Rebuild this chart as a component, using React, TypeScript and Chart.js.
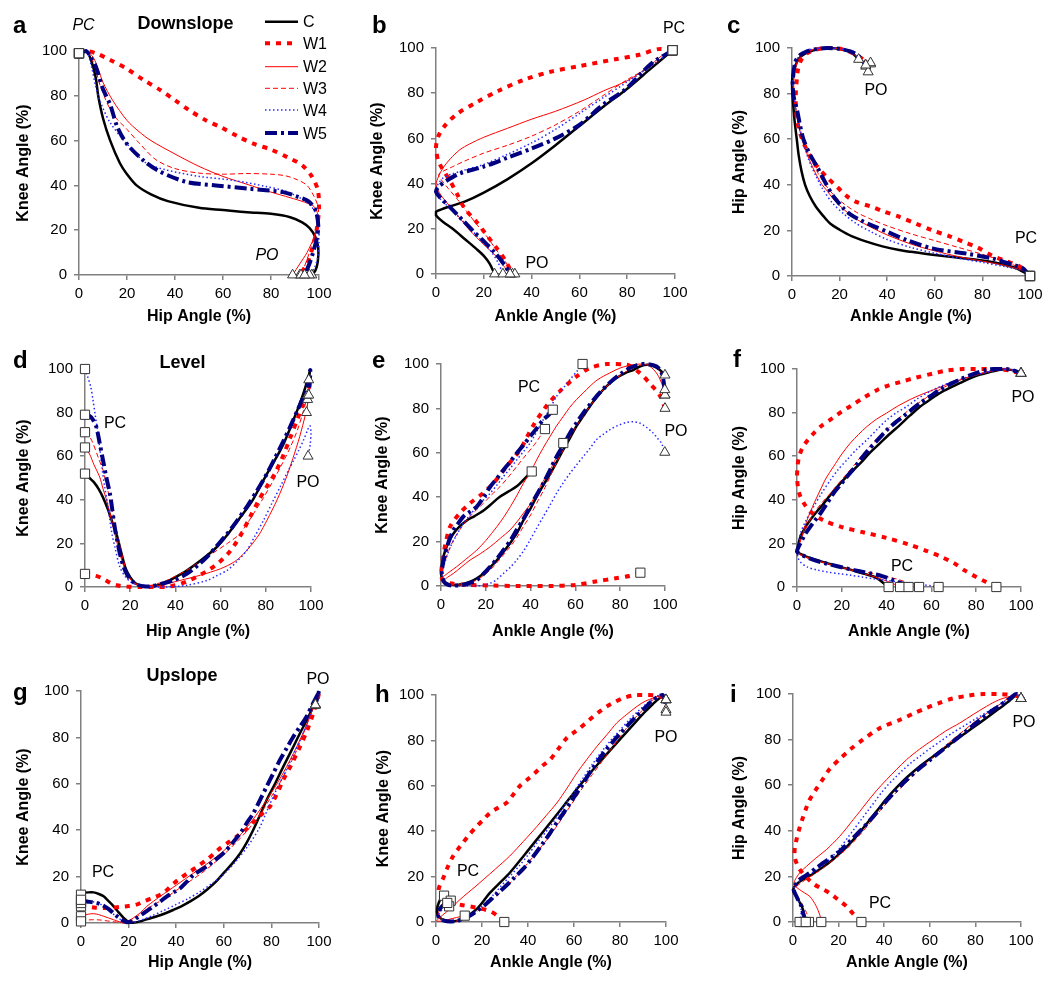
import React, { useEffect, useRef } from "react";
import { Chart, registerables } from "chart.js";

Chart.register(...registerables);

const FONT = "Arial, 'Liberation Sans', Helvetica, sans-serif";
Chart.defaults.font.family = FONT;

type Pt = [number, number];

// ---------- categories / tick labels ----------
const SERIES_NAMES = ["C", "W1", "W2", "W3", "W4", "W5"];
const AXIS_TICKS = [0, 20, 40, 60, 80, 100];
const HIP = "Hip Angle (%)";
const ANKLE = "Ankle Angle (%)";
const KNEE = "Knee Angle (%)";

// ---------- Panel a: Downslope, hip (x) vs knee (y); each series runs PC -> PO ----------
const A_C: Pt[] = [[0,99],[3,100],[5,96],[7,88],[8,80],[10,70],[13,60],[17,50],[20,45],[24,40],[30,36],[37,33],[50,30],[60,29],[70,28],[80,27.3],[88,25.8],[93,23.5],[96,21],[98.5,17],[99.7,12],[99.5,6],[98.5,2],[97,0]];
const A_W1: Pt[] = [[0,99],[3,100],[7,99],[13,96],[20,92],[27,87],[34,82.5],[40,78],[46,73.5],[53,69],[59,66],[66,62],[73,58.5],[80,56],[87,52.5],[93,49],[97,44],[99.5,38],[100,30],[99,20],[97,11],[95,5],[92,0]];
const A_W2: Pt[] = [[0,99],[3,100],[6,97],[8,92],[10,86],[14,78],[20,69],[25,64],[30,60],[40,54],[50,48.5],[60,44],[70,40.5],[80,37],[88,34.5],[94,32.5],[98,30.5],[99.5,27],[99.5,23],[98,17],[95,10],[92,5],[89,0]];
const A_W3: Pt[] = [[0,99],[3,100],[6,95],[9,84],[14,72],[20,65],[25,59],[32,51.5],[40,47.5],[50,45.5],[60,45],[70,45.3],[80,45],[86,44.3],[91,42.5],[95,40],[98,35],[99.7,30],[99.5,24],[98,17],[96,10],[94,4],[92.5,0]];
const A_W4: Pt[] = [[0,99],[3,100],[5,94],[7,84],[9,77],[13,68],[20,58.5],[28,50],[36,47],[50,44],[64,42.3],[78,39.5],[86,37.5],[91,35],[95,32.5],[98.5,28],[100,22],[100,15],[99.5,8],[98,3],[96,0]];
const A_W5: Pt[] = [[0,99],[3,100],[5,97],[7,93],[10,83],[13,76],[16,66],[20,58.5],[27,51],[34,46],[45,41.5],[57,40],[71,38.5],[85,37],[91,35],[95.5,33],[98.5,29],[99.7,22],[99,16],[97.5,10],[96,5],[94,0]];

// ---------- Panel b: Downslope, ankle (x) vs knee (y) ----------
const B_C: Pt[] = [[99,99],[90,91],[80,82],[70,74],[60,65.5],[50,57],[40,49],[30,42],[20,36],[12,32],[6,30],[2,28.5],[0,27.5],[0,26],[3,23],[7,20],[12,15.5],[17,11],[20,8],[22.5,4.5],[24.5,0]];
const B_W1: Pt[] = [[99,99],[93,99.5],[85,97],[75,95],[60,92],[48,89.5],[37,86],[26,81],[17,76],[9,71],[4,66],[1,61],[0,56],[1,50],[3,46],[6,41],[9,35],[12,29],[17,23],[21,17.5],[25,12],[29,6],[32,0]];
const B_W2: Pt[] = [[99,99],[95,97],[88,91],[80,85.5],[70,81],[62,77],[50,72],[40,68.5],[30,64.5],[20,60.5],[14,57.5],[10,55],[6,51],[3,47],[1,43],[0,39.5],[2,35],[5,31],[9,26],[14,19.5],[20,13],[25,8],[28,4],[31,0]];
const B_W3: Pt[] = [[99,99],[90,92],[80,86],[70,79],[60,72],[50,66],[40,61],[30,57],[20,53.5],[12,50],[7,47.5],[3,45.5],[1,44],[2,42],[5,38],[9,33],[13,27.5],[17,22],[21,17],[25,11],[29,5.5],[32,1],[33,0]];
const B_W4: Pt[] = [[99,99],[90,92],[80,85],[70,78],[60,71],[50,64],[40,58],[30,53],[20,48.5],[12,46],[6,44],[3,42.5],[1,40],[0,37],[2,33],[6,29],[12,22.5],[18,16],[23,10],[26,5],[28,0]];
const B_W5: Pt[] = [[99,99],[90,93],[79,81.5],[70,75],[60,66],[50,60],[40,55.5],[30,51.5],[20,47.5],[10,44.5],[4,41],[1,38.5],[0,36.5],[2,33.5],[5,30.5],[11,24],[16,18.5],[20,14.5],[25,9],[29,3.5],[31,0]];

// ---------- Panel c: Downslope, ankle (x) vs hip (y) ----------
const C_C: Pt[] = [[100,0],[98.5,1],[94,3.5],[87,5.5],[80,6.8],[73,7.7],[60,9.2],[50,10.6],[45,11.4],[38,13],[31,15.2],[25,17.5],[20,20.3],[16,23],[13,26.5],[10,30.5],[7.5,35],[5.5,40],[4,46],[2.8,53],[2,60],[1.2,67],[0.6,74],[0.2,80],[0,85],[0.5,89],[1.5,92.5],[3,95.5],[5.5,97.5],[9,99],[13,100],[20,99.7],[25,98],[28,95]];
const C_W1: Pt[] = [[100,0],[96,4],[90,6.5],[84,9],[78,12.5],[72,15],[66,17.5],[59,20],[52,23],[45,26],[38,28.5],[33,30.5],[27,32.5],[23,35],[19,39],[15,43],[11,47.5],[8,52],[5,58],[3.3,63],[2.2,68],[1.6,74],[1.6,80],[2,86],[2.6,91],[4,95],[6.5,97.8],[10,99.3],[15,100],[21,99.5],[26,97.5],[30,95],[33,93]];
const C_W2: Pt[] = [[100,0],[98,2],[90,4.5],[80,6.5],[70,8.5],[60,11],[50,14],[40,18],[33,21.5],[27,25],[22,29],[18,33],[15,37],[12,41],[9,47],[6.5,53],[4.5,59],[3,65],[1.8,72],[1,79],[0.7,85],[1.2,90],[2.5,94.5],[5,97.5],[9,99.3],[14,100],[20,99.6],[26,97.2],[31,92]];
const C_W3: Pt[] = [[100,0],[97,3],[90,6],[80,9.5],[70,12.5],[60,15.5],[50,18.5],[40,22],[33,25],[27,28],[22,31.5],[18,35],[14,40],[11,45],[8,51],[5.5,57],[3.5,63],[2,70],[1,77],[0.5,83],[1,89],[2.5,94],[5,97.5],[9,99.3],[14,100],[20,99.7],[27,97],[33,93.5]];
const C_W4: Pt[] = [[100,0],[98,2],[90,4],[80,6],[70,7.8],[60,10],[50,12.5],[40,16],[33,19.5],[27,23],[22,27],[17,32],[13,38],[10,44],[7,51],[5,58],[3,66],[1.5,74],[0.5,82],[0.3,88],[1.2,93],[3,96.5],[6,98.8],[10,99.8],[15,100],[21,99.5],[25,97.8],[29,94.5],[32,89.5]];
const C_W5: Pt[] = [[100,0],[97.5,3],[95.8,4],[90,5.8],[84.6,7.6],[73.4,9.8],[59.4,12],[48.3,15.7],[40,19.4],[34,22],[28.7,24.5],[24.5,27],[21.7,29.6],[17.5,34.8],[14,41],[10.5,48],[7.7,53],[4.9,59.7],[3.5,65.5],[2.1,72.9],[0.7,78.7],[0.3,84.6],[1.4,94],[3.5,97],[6.3,98.5],[10,99.5],[14.7,100],[20,99.6],[24.5,98.5],[28,96.5],[31,92.5]];

// ---------- Panel d: Level, hip (x) vs knee (y) ----------
const D_C: Pt[] = [[0,52],[2,50],[4,48],[6,45],[8,41],[10,36],[12,30],[14,24],[16,16],[18,8.5],[20,4.5],[22,2],[25,0.5],[30,0.3],[35,1.8],[40,4.5],[45,7.5],[51,12],[58,18],[63,24],[68,31],[74,39.5],[80,51],[85,60],[88,66],[92,76],[95,84],[97,90],[99,97],[99.5,99],[99,95]];
const D_W1: Pt[] = [[0,6],[4,5.5],[8,3.8],[11,2],[14,0.8],[18,0.2],[24,0],[30,0],[36,0],[40,0.8],[45,2.5],[50,5],[55,8],[59,11],[63,15],[66,19],[69,24],[73,32],[77,40],[81,47],[84,52],[88,61],[91,69],[94,77],[96.5,84],[98.5,90],[99.5,95],[98.5,86]];
const D_W2: Pt[] = [[0,64],[2,61],[4,56],[6.5,50.5],[8,45],[9.5,40],[11,34],[12.5,27.5],[14,21],[15.5,15],[17,10],[18.5,6],[21,2.5],[24,0.8],[29,0.3],[35,1.2],[42,3],[51,5.4],[60,8.4],[66,11.5],[70,15],[73,18.5],[77,24],[80.5,30.6],[85,40],[89,50],[92,59],[95,69],[97.5,79],[99,87],[99.7,94],[98,80]];
const D_W3: Pt[] = [[0,71],[2,69],[3.5,66],[6,59],[8,53.5],[9.5,47],[11,40],[12.5,33],[14,26],[15.5,19],[17,12.3],[19,6],[21,2.5],[24,0.8],[27,0.5],[31,1.2],[36,3],[45,7.7],[54,13.8],[63,20],[68.6,24.5],[74.6,33.7],[79,41],[83.4,49],[87,56],[90.8,64],[94,72],[96.7,81],[98.5,88],[99.7,94],[98.5,88]];
const D_W4: Pt[] = [[0,100],[1,97],[2.5,92],[3.5,86],[4.5,79],[5.5,72],[6.5,64],[7.5,55],[8.7,46],[10,38],[11,30.6],[12,24],[13.2,18.4],[15.4,9.2],[18,4.5],[20,2.5],[23,1],[26,0.5],[30,0],[36,0],[45,0.8],[54,3],[58,5],[63,7.7],[67,11.5],[71.6,16.8],[75,23],[79,30.6],[83,39],[86.4,46],[89.5,52.5],[92.3,58],[94.7,63],[96.7,67.4],[98.5,72],[99.5,74],[100,71],[99.6,65],[98.7,60]];
const D_W5: Pt[] = [[0,79],[2,78.5],[3.6,76.6],[5,73.5],[6.5,66],[8,58],[9.5,50],[11,43],[12,36],[13.2,27],[14.5,20],[15.5,15],[17,9.5],[18.5,6],[20.5,3],[23,1.2],[26,0.3],[29,0.3],[34,1.5],[39,3],[45,6],[50,10],[54,13.8],[58,18.5],[63,24.5],[67,30],[71.6,36.8],[76,44],[80.5,52],[84,59],[88,67.4],[91,74],[94,81],[96.5,87],[98.2,92],[99.7,99.5],[99,88]];

// ---------- Panel e: Level, ankle (x) vs knee (y) ----------
const E_C: Pt[] = [[40.5,51.6],[37,48],[34,45],[30,42.5],[26,40],[22,36.5],[19,34],[15,31.5],[11.5,29.5],[8,26.5],[5.5,23.5],[3.5,20],[1.9,16],[0.8,12],[0.3,8.5],[0.1,5],[1,2.5],[2.7,1.2],[5,0.6],[7,0.5],[10,1],[13,2],[16,3.5],[19,5.7],[22,8.5],[25,11.7],[28,15.5],[31,19.5],[34,24],[37,30],[40,35],[42.7,40.3],[46,46],[49,51],[52,56.5],[54.6,61.4],[57.5,66.5],[60.5,72],[63.5,76.5],[66.5,81],[69.5,85],[72.4,88.4],[75.5,91.5],[78.3,93.7],[82,95.8],[86,97.4],[89,99],[92,99.7],[95,99],[97.6,97.4],[100,95]];
const E_W1: Pt[] = [[89,6],[84,4.5],[78,3.5],[69,2],[60,0.5],[49,0],[34,0],[23,0.2],[12,0.5],[4,1.2],[1.2,2],[0.1,4.5],[0.7,11.5],[2,19],[4.2,27],[8.6,33],[13,37.3],[19,42],[23.4,46.3],[29.4,54],[35.3,61.4],[41,72],[47,81],[53,87.7],[60.5,94.4],[66.5,98.2],[74,100],[83,99.7],[88.7,96],[93,91.5],[97.6,86],[100,80]];
const E_W2: Pt[] = [[54.6,64.4],[51.5,58],[48.7,52.3],[45.5,47],[42.7,41.8],[40,37],[36.8,32.8],[34,29],[30.9,25.3],[26.5,21.5],[22,17.7],[17.5,14.5],[13,11.7],[9,8.5],[5.6,5.7],[3,4],[1.2,2.7],[0.2,3.5],[2,5],[4,6.5],[7,8.7],[11,12],[16,16.2],[20,20.5],[25,26.8],[28,31],[31,35.8],[34,41],[36.8,46.3],[40,51.5],[42.7,56.8],[45.5,62],[48.7,67.4],[51.5,72],[54.6,76.4],[57.5,80.5],[60.5,84],[63.5,87],[66.5,90],[70,93],[75.4,96],[80,98.2],[85.8,99.7],[90,100],[93.2,99],[96.5,95.5],[99,90],[100,86]];
const E_W3: Pt[] = [[46.4,70.7],[44,67],[41.2,63],[37.5,58.5],[33.8,53.8],[30,49],[26.4,44.8],[22.5,41],[19,37.3],[15,33.5],[11.6,29.8],[8.5,25.5],[5.6,20.8],[3.5,16],[1.9,11.7],[0.8,8.5],[0.4,5.7],[1.2,3],[2.7,1.2],[5.5,0.6],[8.6,0.5],[12,1.2],[16,2.7],[20,5.5],[23.4,8.7],[27,13],[30.9,17.7],[34,22],[36.8,26.8],[40,32],[42.7,37.3],[46,43.5],[48.7,49.3],[51.5,55.5],[54.6,61.4],[57.5,67],[60.5,72],[63.5,76.5],[66.5,81],[69.5,85],[72.4,88.4],[75.5,91.5],[78.3,93.7],[82,96.2],[85.8,98.2],[88.7,99.3],[91.7,100],[95,99.2],[97.6,97],[99.9,90],[100,86]];
const E_W4: Pt[] = [[63.2,100],[60.5,96.5],[57.6,93],[54.5,89],[51.6,85.4],[48.7,80],[45.7,75],[42.7,69.5],[39.8,64.4],[36.8,60.5],[33.8,56.8],[30.9,53],[27.9,49.3],[25,45.5],[22,41.8],[19,38.8],[16,35.8],[13,32],[10,28.3],[7,23],[4.2,17.7],[2.5,13],[1.2,8.7],[0.6,5.5],[0.4,2.7],[2,0.8],[4.2,0.2],[8,0],[11.6,0],[16,0],[19,0.4],[22,1.2],[25,3],[27.9,5.7],[31,8.5],[33.8,11.7],[37,16],[39.8,20.8],[42.7,26],[45.7,31.3],[48.7,36.5],[51.6,41.8],[54.6,46.5],[57.6,50.8],[60.5,54.5],[63.5,58.3],[66.5,62],[69.4,65.9],[72.4,68.3],[75.4,70.4],[79,72.3],[82.8,73.7],[85.8,74],[88.7,73.4],[91.7,71.5],[94.7,68.9],[96.7,66.5],[98.4,64.4],[99.9,60.2]];
const E_W5: Pt[] = [[49.9,79.4],[48,77],[45.7,75],[42.7,71],[39.8,67.4],[36.8,63.5],[33.8,59.8],[30.9,56],[27.9,52.3],[25,48.5],[22,44.8],[19,40],[16,35.8],[13,33.5],[10,31.3],[7.5,28],[5.6,25.3],[4,21.5],[2.7,17.7],[1.8,14.5],[1.2,11.7],[0.6,8.5],[0.3,5.7],[0.9,3],[1.9,1.2],[3.5,0.4],[5.6,0.2],[8,0.3],[10,0.5],[13,1.4],[16,2.7],[19,5.5],[22,8.7],[25,12.3],[27.9,16.2],[31,20.5],[33.8,25.3],[37,30.5],[39.8,35.8],[42.7,41],[45.7,46.3],[48.7,52.3],[51.6,58.3],[54.6,63.5],[57.6,68.9],[60.5,73.5],[63.5,77.9],[66.5,81.8],[69.4,85.4],[73,89.3],[76.8,92.9],[80.5,95.8],[84.3,98.2],[87,99.3],[90.2,100],[93,99.8],[96.1,99],[98,97],[99,94.4],[99.9,88.4]];

// ---------- Panel f: Level, ankle (x) vs hip (y) ----------
const F_C: Pt[] = [[40.9,0],[39.5,1],[38.6,1.8],[36.5,3.5],[34.2,4.8],[30,6],[26.7,7],[23,8.2],[19.3,9.2],[15.5,10.3],[11.9,11.4],[8,12.6],[4.5,13.8],[2,15],[0.3,16.1],[0.5,19],[1.5,23],[3.5,27],[5.9,30.7],[8.8,34.5],[11.9,38.3],[15.5,43],[19.3,47.5],[23.5,52],[28.2,56.7],[32.5,61.5],[37.1,66],[41.5,70.3],[46,74.4],[50.5,78.7],[55,82.8],[59.5,86],[63.9,89],[68.5,91.5],[72.8,93.6],[77,95.6],[81.7,97.4],[86,98.6],[90.6,99.7],[94,99.8],[97,99.3],[100,98]];
const F_W1: Pt[] = [[89,0],[84,2.5],[80,4.6],[75,7.5],[70,11],[64,14],[58,16.5],[50,19.5],[40,22.5],[30,25],[20,27.5],[12,30.5],[6,34.5],[3,38.5],[1,43],[0,50],[0.3,56],[1,60],[2.5,64],[4.5,67],[7,70],[11,74],[16,77.5],[20,80.5],[24,83],[30,87],[36,90.5],[41,92.5],[46,94],[53,96],[61,98],[67,99.3],[74,100],[80,100],[86,100],[91,99.8],[95,99.3],[97,98.7],[100,98]];
const F_W2: Pt[] = [[46,0],[43,1.5],[38,3.5],[32,5.5],[25,7.5],[18,9.5],[12,11.2],[6,13],[2,14.8],[0,16.5],[1.5,21],[3,26],[4.5,30.7],[7,37],[10.4,44.5],[13,50],[16.3,55.2],[20,61],[23.8,66],[27.5,70],[31.2,73.6],[35.5,77],[40,79.8],[45,83],[50.5,86],[55.5,88.3],[61,90.5],[67,93],[72.8,95],[79,97],[86,98.9],[92,100],[96,99.5],[100,98]];
const F_W3: Pt[] = [[54.5,0],[50,1.8],[45,3.5],[40,4.8],[35,6],[30,7],[25,8],[20,9],[15,10.3],[10,11.7],[6,12.8],[3,14],[1,15],[0,16],[0.8,18.5],[1.5,21.5],[4,27],[7.4,33.7],[11,38.5],[14.9,43],[18.5,47.5],[22.3,52],[26,56.5],[29.7,61.3],[33.5,65.5],[37.1,69],[41,73],[44.6,76.7],[48.5,80],[52,82.8],[56.5,86],[61,89],[66,91.8],[71.3,94.3],[77,96.5],[83.2,98.2],[88,99.3],[93.6,100],[97,99.5],[100,98]];
const F_W4: Pt[] = [[63.2,0],[60,0.5],[55,1.2],[50,1.8],[46,2.3],[40,3],[34,3.8],[29,4.6],[24,5.4],[19,6.1],[13.4,6.9],[9,7.8],[4.5,9.2],[1.5,11.5],[0.3,14],[0.6,18],[1.5,24.5],[4,30.5],[7.4,36.8],[11,43],[14.9,49],[18.5,54],[22.3,58.3],[26.5,63],[31.2,67.5],[35.5,72],[40.1,76.7],[44.5,80],[49,82.8],[54,86.5],[59.4,89.7],[64.5,92.2],[69.8,94.3],[75,96],[80.2,97.4],[85.5,98.7],[90.6,99.7],[95,99.8],[100,98]];
const F_W5: Pt[] = [[49.8,0],[47,1.5],[43,3.2],[38,5],[33,6.2],[28,7.2],[23,8.3],[18,9.5],[13,10.8],[8,12.2],[4,13.8],[1.5,15],[0,16.2],[0.5,18],[1.5,20],[3.5,24],[5.9,27.6],[8,30.5],[10.4,33.7],[13.5,38.5],[16.3,43],[19.5,47],[22.3,50.6],[25.5,54.5],[28.2,58.3],[32,63],[36,67.5],[40.1,72],[44,75.5],[47.5,78.2],[51,81.2],[55,84.4],[59.5,87.5],[63.9,90.5],[69,93.4],[74.3,95.9],[79.5,98],[84.7,99.7],[89,100],[93.6,100],[97,99.2],[100,98]];

// ---------- Panel g: Upslope, hip (x) vs knee (y) ----------
const G_C: Pt[] = [[0,12.2],[1.1,12.9],[3,13.2],[5.3,13.2],[7.5,12.5],[9.5,11.5],[11.5,9.5],[13.7,7.2],[15.8,4.6],[17.9,2.2],[19.5,0.8],[20.7,0.1],[22.5,0.2],[24.9,0.7],[28,1.7],[31.9,2.9],[35.5,4.2],[38.9,5.7],[42.5,7.4],[45.9,9.3],[49.5,11.6],[52.9,14.3],[56.5,17.6],[59.9,21.5],[63.5,25.6],[66.9,30.1],[69.8,35],[72.4,40.2],[75.2,46.5],[78,53],[81.5,60],[85,67.4],[88.5,74.5],[92,81.8],[95,87.7],[97.6,93.3],[99,97],[100,100],[98.5,94]];
const G_W1: Pt[] = [[0,7.2],[3,7],[6,6.6],[9,6.5],[12.3,6.5],[16.5,7],[20,7.3],[23,7.8],[26.3,9.3],[30,10.8],[34.7,13],[38.9,17],[42,19.5],[45.9,22.2],[49.5,24.8],[52.9,27.3],[56,30],[58.5,32.3],[62,34.8],[65.5,37.3],[69,40],[72.5,43.5],[76,47],[79.4,50.2],[82,55],[85,61.7],[88.5,68.5],[92,76],[95,83],[97.6,90.4],[99.7,97.6],[100,100],[98.5,94]];
const G_W2: Pt[] = [[0,2.9],[1.1,3.2],[3,3.8],[5.3,4],[7.5,3.6],[9.5,2.9],[11.5,2.2],[13.7,1.4],[16,0.6],[17.9,0],[20,1],[22,2.2],[25,4.5],[27.7,7.2],[30.5,9.4],[33.3,11.5],[36.8,14],[40.3,16.5],[43.8,19],[47.3,21.5],[50.8,24],[54.3,26.5],[57.8,29.3],[61.3,32.3],[64.8,35.7],[68.3,39.5],[71.8,44],[75.2,48.8],[78,53],[80.8,57.4],[83.6,62.2],[86.4,67.4],[89.2,73],[92,78.9],[94.2,84],[96.2,89],[98,94],[99.7,99],[100,100],[98.5,94]];
const G_W3: Pt[] = [[0,0.7],[2,1.2],[5,1.4],[8,1.3],[11,0.9],[14,0.5],[17,0.2],[19,0],[21,0.8],[24,3],[27,5.5],[30,7.5],[35,10.5],[40,14],[45,17.5],[50,21],[55,25],[60,29.5],[65,34.5],[70,40],[75,46.5],[80,54.5],[85,63],[90,73],[94,83],[97,91.5],[99,97],[100,100],[98.5,94]];
const G_W4: Pt[] = [[0,8.6],[2,9.2],[5,9.2],[8,8.2],[11,6],[14,3.5],[17,1.3],[19.5,0.2],[22,0.3],[26,1.5],[30,3.2],[35,5.5],[40,8],[45,10.5],[50,13.5],[55,17],[60,21],[65,26.5],[70,33],[75,41],[78,48],[81,55],[85,63.5],[89,72],[93,81],[96,89],[98.5,96],[100,100],[98.5,94]];
const G_W5: Pt[] = [[0,10],[2.5,9.3],[4.5,9],[6.7,8.6],[8.8,7.8],[10.9,6.5],[13,4.8],[15.1,2.9],[17.2,1.3],[19.3,0.3],[21.4,0.8],[23.5,2.2],[27,4.7],[30.5,7.2],[33.3,9.3],[36.1,11.5],[38.9,13.2],[41.7,15],[44.5,17.8],[47.3,20.8],[50.1,22.6],[52.9,24.4],[56.4,27.2],[59.9,30.1],[63.4,34.2],[66.9,38.7],[69.6,43],[72.4,47.3],[75.2,53],[78,58.8],[80.8,64.5],[83.6,70.3],[86.4,75.3],[89.2,80.3],[92,84.6],[94.8,89],[97.2,94],[99.7,99],[100,100],[98.5,94]];

// ---------- Panel h: Upslope, ankle (x) vs knee (y) ----------
const H_C: Pt[] = [[3.5,11.6],[2.2,10.5],[1.2,8.5],[0.5,6],[0.6,3.5],[1.8,1.8],[3.5,0.8],[6,0.3],[9,0.5],[12,1.5],[15,3.5],[18,6],[20.5,9],[23.4,12.8],[27.5,17],[32,21.6],[38,29],[43.8,36.3],[49.5,43.5],[55.4,51],[61,58.3],[67,65.6],[72.8,72.3],[78.6,78.9],[84.5,85.5],[90.3,92],[94,95.7],[97,98.5],[99,99.4],[99.8,99],[100,97.9]];
const H_W1: Pt[] = [[29.7,0],[27,2.5],[24,4.5],[20,5.8],[15,6.8],[11,7.5],[7,8.5],[4,10],[2,11.5],[1,13],[1.6,16],[3,19],[5,24],[7.4,29],[9.5,32],[11.8,35],[14.5,38.5],[17.6,42],[20.5,45],[23.4,48],[27,50.3],[30.7,52.5],[33.5,56],[36.5,60],[40,63],[43,65.6],[46.5,69],[49.6,71.5],[53,76],[56.8,81],[60,83.5],[62.6,85.5],[65.5,88],[68.5,90.6],[71.5,93],[74.3,95],[78,97],[81.5,98.7],[87,100],[92,100],[96,99.8],[98.5,99],[100,97.9]];
const H_W2: Pt[] = [[12.5,2.8],[9,2],[5,1],[2,0.4],[0.3,0.5],[1.5,1.8],[4,4],[7,6.5],[10,9.5],[14,13],[17,15.5],[20.5,18.6],[26,23.5],[32,29],[38,35.5],[43.8,42],[48,47],[52.5,52.4],[57,59],[61.2,65.6],[65.5,71.5],[70,77.4],[74.3,82.5],[78.6,87.7],[83,91.5],[87.4,95],[91,97.3],[94.6,98.7],[97.5,99.5],[99.5,99],[100,97.9]];
const H_W3: Pt[] = [[6.4,9.4],[4,8],[2,6],[1,3.5],[2,1.5],[4,0.5],[7,0.2],[10,0.6],[13,1.8],[16,3.5],[19,5.5],[22,8],[25,10.5],[28,13],[32,17],[36,21.5],[40,26],[44,31],[48,36],[52,41.5],[56,47.5],[60,53.5],[64,59.5],[68,65],[72,70.5],[76,76],[80,81.5],[84,87],[88,91.5],[92,95.5],[95,98.5],[97.5,100],[99,98],[100,93.5]];
const H_W4: Pt[] = [[5.7,6.9],[3.5,6],[1.8,4.5],[1,2.8],[2,1.2],[4,0.4],[7,0.2],[10,0.8],[13,2],[16,3.8],[19,6],[22,9],[25,12],[28,15.5],[32,20],[36,24.5],[40,29.5],[44,35],[48,40],[52,45.5],[56,51.5],[60,57.5],[64,63.5],[68,69.5],[72,75],[76,80],[80,84.5],[84,89],[88,93],[92,96.5],[95,98.8],[97.5,100],[99,99.5],[100,97.9]];
const H_W5: Pt[] = [[4.9,8.4],[3,7.3],[1.5,5.5],[0.8,3.5],[1.5,1.7],[3.5,0.6],[6,0.2],[9,0.5],[12,1.4],[15,3],[18,5],[21,7.3],[24,10],[27,12.8],[30,15.5],[34,19.5],[38,23.5],[42,28.5],[46,34],[49.6,39.2],[53,44.5],[55.4,48],[59,53.5],[62,58],[64,61.2],[68,67.5],[72.8,74.4],[77,79.5],[80,83],[83,86.2],[87,90.5],[91,94.5],[94,97.5],[97,99.5],[98.5,100],[99.5,98],[100,92.4]];

// ---------- Panel i: Upslope, ankle (x) vs hip (y) ----------
const I_C: Pt[] = [[4.7,0],[5,2],[4.7,4],[4,6.5],[3,8.5],[1.8,10.5],[0.6,12.5],[0,14],[1,16],[3,17.8],[5.5,19.3],[9,21.3],[13,24],[17,27],[21,30.5],[25,34.5],[29,39],[33,44],[37,49],[41,54],[45.5,59],[50,63.5],[55,67.8],[61,72.3],[67,76.7],[73,81],[79,85.3],[85,89.6],[90,93.3],[95,97],[98,99.4],[100,98]];
const I_W1: Pt[] = [[30,0],[26.5,3.5],[23.4,6.9],[19.5,10],[16,12.7],[12.5,14.7],[9.5,16.4],[6,19.5],[3,23],[1.5,26],[0.7,28.8],[0.8,32.5],[1.5,36],[2.8,41],[4.4,46],[5.8,50],[7.3,53.6],[10,58],[13,62.5],[16,67],[20.5,71.5],[25,75.6],[30.7,80],[38,85],[47,88.7],[53,91.5],[58.5,93.9],[64,96],[70,98],[77,99.3],[83.5,100],[90,100],[95,99.7],[98,99.2],[100,98]];
const I_W2: Pt[] = [[12.4,0],[11.8,3],[10.2,6.9],[8.8,9.3],[7.3,11.3],[5,12.8],[2.9,14.2],[1.2,15.5],[0.4,17],[1.5,19.5],[3.3,22],[5.9,24.4],[10,28],[14.6,31.7],[17.5,34.5],[20.5,37.6],[23.5,41.2],[26.4,44.9],[29.3,48.5],[32.2,52.2],[36.5,57.5],[41,62.4],[45.5,67],[49.8,71.2],[55.5,75.8],[61.5,80],[67,83.8],[73.2,87.3],[79,91],[84.9,94.6],[90,97.3],[95.2,99],[98,99.7],[100,98]];
const I_W3: Pt[] = [[7,0],[6.5,2.5],[5.5,5],[4.2,7.5],[3,9.5],[1.5,11.8],[0.3,13.8],[1.5,15.5],[4,17.5],[7,19.5],[10,21.5],[13,23.5],[16,26],[20,29],[25,33.5],[30,39],[35,45],[40,51],[45,56.5],[50,61.5],[55,66.5],[60,71],[65,75.5],[70,80],[75,84],[80,88],[85,91.5],[90,95],[95,98.5],[98,99.8],[100,98]];
const I_W4: Pt[] = [[2.9,0],[3.5,3],[3.5,6],[2.8,8.5],[1.8,10.5],[0.7,12.5],[0,14],[1,16],[3,18],[6,20],[9,22],[12,24],[15,26.5],[18,29.5],[21,33],[24,37],[27,41],[30,45],[33,49],[36,53],[39,57],[42,60.5],[45,63.5],[48,66.5],[52,70],[56,73],[60,76],[65,79.5],[70,83],[75,86],[80,89],[85,92],[90,95],[95,98],[98,99.6],[100,98]];
const I_W5: Pt[] = [[5.6,0],[5,2],[4.4,4],[3.7,6.9],[2.6,9],[1.5,11.3],[0.3,14.2],[1.2,16.5],[2.9,18.6],[5,20],[7.3,21.5],[10,23.5],[13.2,25.9],[17,28.5],[21,31.5],[25,35.5],[30,40.5],[35,46],[40,52],[45,57.5],[50,62.5],[55,67],[60,71],[65,75],[70,79],[75,83],[80,87],[85,91],[90,94.5],[95,98],[98,100],[100,98]];

// ---------- styles ----------
const STYLES = [
  { color: "#000000", width: 2.5, dash: [] as number[] },
  { color: "#ff0000", width: 4, dash: [5, 6] },
  { color: "#ff0000", width: 1, dash: [] as number[] },
  { color: "#ff0000", width: 1, dash: [5, 3] },
  { color: "#2a2aff", width: 1.5, dash: [1.5, 2.5] },
  { color: "#000080", width: 4, dash: [12, 4, 3, 4] },
];

interface Label { text: string; x: number; y: number; size: number; bold?: boolean; italic?: boolean; align?: CanvasTextAlign; }
interface Panel {
  key: string; cl: number; ct: number; cr: number;
  x0: number; x100: number; y100: number; y0: number;
  yTitleX: number; xTitleY: number;
  xTitle: string; yTitle: string;
  series: Pt[][]; labels: Label[]; legend?: boolean;
}

const L = (text: string, x: number, y: number, size = 16, extra: Partial<Label> = {}): Label => ({ text, x, y, size, align: "center", ...extra });
const letter = (t: string, x: number, y: number) => L(t, x, y, 24, { bold: true, align: "left" });

const PANELS: Panel[] = [
  { key: "a", cl: 0, ct: 0, cr: 350, x0: 79, x100: 319, y100: 51, y0: 275, yTitleX: 24, xTitleY: 317, xTitle: HIP, yTitle: KNEE,
    series: [A_C, A_W1, A_W2, A_W3, A_W4, A_W5], legend: true,
    labels: [letter("a", 13, 33), L("Downslope", 185.5, 29, 18, { bold: true }), L("PC", 83.5, 30, 16, { italic: true }), L("PO", 267, 260, 16, { italic: true })] },
  { key: "b", cl: 350, ct: 0, cr: 700, x0: 436, x100: 675, y100: 48, y0: 274, yTitleX: 378, xTitleY: 317, xTitle: ANKLE, yTitle: KNEE,
    series: [B_C, B_W1, B_W2, B_W3, B_W4, B_W5],
    labels: [letter("b", 372, 33), L("PC", 674, 33), L("PO", 537, 268)] },
  { key: "c", cl: 700, ct: 0, cr: 1050, x0: 792, x100: 1030, y100: 48, y0: 276, yTitleX: 740, xTitleY: 317, xTitle: ANKLE, yTitle: "Hip Angle (%)",
    series: [C_C, C_W1, C_W2, C_W3, C_W4, C_W5],
    labels: [letter("c", 727, 33), L("PO", 876, 95), L("PC", 1026, 243)] },
  { key: "d", cl: 0, ct: 320, cr: 350, x0: 85, x100: 311, y100: 369, y0: 587, yTitleX: 24, xTitleY: 632, xTitle: HIP, yTitle: KNEE,
    series: [D_C, D_W1, D_W2, D_W3, D_W4, D_W5],
    labels: [letter("d", 13, 368), L("Level", 182.5, 368, 18, { bold: true }), L("PC", 115, 428), L("PO", 308, 487)] },
  { key: "e", cl: 350, ct: 320, cr: 700, x0: 441, x100: 665, y100: 364, y0: 586, yTitleX: 383, xTitleY: 632, xTitle: ANKLE, yTitle: KNEE,
    series: [E_C, E_W1, E_W2, E_W3, E_W4, E_W5],
    labels: [letter("e", 372, 368), L("PC", 529, 392), L("PO", 676, 436)] },
  { key: "f", cl: 700, ct: 320, cr: 1050, x0: 797, x100: 1021, y100: 369, y0: 587, yTitleX: 740, xTitleY: 632, xTitle: ANKLE, yTitle: "Hip Angle (%)",
    series: [F_C, F_W1, F_W2, F_W3, F_W4, F_W5],
    labels: [letter("f", 733, 367), L("PO", 1023, 402), L("PC", 902, 571)] },
  { key: "g", cl: 0, ct: 640, cr: 350, x0: 81, x100: 319, y100: 691, y0: 923, yTitleX: 24, xTitleY: 963, xTitle: HIP, yTitle: KNEE,
    series: [G_C, G_W1, G_W2, G_W3, G_W4, G_W5],
    labels: [letter("g", 13, 700), L("Upslope", 182, 681, 18, { bold: true }), L("PC", 103, 877), L("PO", 318, 684)] },
  { key: "h", cl: 350, ct: 640, cr: 700, x0: 436, x100: 666, y100: 695, y0: 922, yTitleX: 384, xTitleY: 963, xTitle: ANKLE, yTitle: KNEE,
    series: [H_C, H_W1, H_W2, H_W3, H_W4, H_W5],
    labels: [letter("h", 375, 702), L("PC", 468, 876), L("PO", 666, 742)] },
  { key: "i", cl: 700, ct: 640, cr: 1050, x0: 793, x100: 1021, y100: 694, y0: 922, yTitleX: 740, xTitleY: 963, xTitle: ANKLE, yTitle: "Hip Angle (%)",
    series: [I_C, I_W1, I_W2, I_W3, I_W4, I_W5],
    labels: [letter("i", 730, 702), L("PO", 1024, 727), L("PC", 880, 908)] },
];

const LEGEND_ROWS = [21.7, 43.3, 66.7, 88.3, 110, 133];
const HALF_TITLE = 9.6; // half line height of 16px title

function PanelChart({ p }: { p: Panel }) {
  const ref = useRef<HTMLCanvasElement>(null);
  const H = p.xTitleY + HALF_TITLE - p.y0;
  const W = p.x0 - p.yTitleX + HALF_TITLE;
  const width = p.cr - p.cl;
  const height = Math.ceil(p.y0 - p.ct + H);

  useEffect(() => {
    const canvas = ref.current;
    if (!canvas) return;
    const padLeft = p.yTitleX - HALF_TITLE - p.cl;
    const padTop = p.y100 - p.ct;
    const padRight = p.cr - p.x100;
    const padBottom = height - (p.y0 - p.ct) - H;

    const lineSets: any[] = p.series.map((pts, i) => ({
      label: SERIES_NAMES[i],
      data: pts.map(([x, y]) => ({ x, y })),
      showLine: true,
      borderColor: STYLES[i].color,
      backgroundColor: STYLES[i].color,
      borderWidth: STYLES[i].width,
      borderDash: STYLES[i].dash,
      pointRadius: 0,
      pointHoverRadius: 0,
      tension: 0.3,
      fill: false,
      clip: false,
      order: 10 - i,
    }));
    const markerCommon = {
      showLine: false,
      pointBackgroundColor: "#ffffff",
      pointBorderColor: "#333333",
      pointBorderWidth: 1,
      clip: false,
      order: 0,
    };
    const pcSet = { ...markerCommon, label: "PC", data: p.series.map((s) => ({ x: s[0][0], y: s[0][1] })), pointStyle: "rect", pointRadius: 6.5 };
    const poSet = { ...markerCommon, label: "PO", data: p.series.map((s) => ({ x: s[s.length - 1][0], y: s[s.length - 1][1] })), pointStyle: "triangle", pointRadius: 5.8 };

    const textPlugin = {
      id: "panelText" + p.key,
      afterDraw(chart: any) {
        const ctx = chart.ctx as CanvasRenderingContext2D;
        ctx.save();
        ctx.fillStyle = "#000";
        ctx.textBaseline = "alphabetic";
        for (const lb of p.labels) {
          ctx.font = `${lb.italic ? "italic " : ""}${lb.bold ? "bold " : ""}${lb.size}px ${FONT}`;
          ctx.textAlign = lb.align || "center";
          ctx.fillText(lb.text, lb.x - p.cl, lb.y - p.ct);
        }
        if (p.legend) {
          ctx.font = `16px ${FONT}`;
          ctx.textAlign = "left";
          SERIES_NAMES.forEach((name, i) => {
            const y = LEGEND_ROWS[i] - p.ct;
            ctx.save();
            ctx.strokeStyle = STYLES[i].color;
            ctx.lineWidth = STYLES[i].width;
            ctx.setLineDash(STYLES[i].dash);
            ctx.beginPath();
            ctx.moveTo(265 - p.cl, y);
            ctx.lineTo(298 - p.cl, y);
            ctx.stroke();
            ctx.restore();
            ctx.fillStyle = "#000";
            ctx.fillText(name, 303 - p.cl, y + 5.5);
          });
        }
        ctx.restore();
      },
    };

    const axisCommon = (title: string, pad: number) => ({
      type: "linear",
      min: 0,
      max: 100,
      afterBuildTicks: (s: any) => { s.ticks = AXIS_TICKS.map((v) => ({ value: v })); },
      ticks: { color: "#000", font: { size: 15, family: FONT }, padding: pad, autoSkip: false, maxRotation: 0, callback: (v: any) => String(v) },
      grid: { display: true, drawOnChartArea: false, drawTicks: true, tickLength: 5, color: "#808080", lineWidth: 1.5 },
      border: { display: true, color: "#808080", width: 1.5 },
      title: { display: true, text: title, color: "#000", font: { size: 16, weight: "bold", family: FONT, lineHeight: 1.2 }, padding: 0 },
    });

    const chart = new Chart(canvas, {
      type: "scatter",
      data: { datasets: [pcSet, poSet, ...lineSets] as any },
      options: {
        responsive: false,
        animation: false,
        devicePixelRatio: 1,
        events: [],
        layout: { padding: { left: padLeft, top: padTop, right: padRight, bottom: padBottom } },
        plugins: { legend: { display: false }, tooltip: { enabled: false }, title: { display: false } },
        scales: {
          x: { ...axisCommon(p.xTitle, 5), position: "bottom", afterFit: (s: any) => { s.height = H; } },
          y: { ...axisCommon(p.yTitle, 7), position: "left", afterFit: (s: any) => { s.width = W; } },
        } as any,
      },
      plugins: [textPlugin],
    });
    return () => chart.destroy();
  }, []);

  return (
    <canvas
      ref={ref}
      width={width}
      height={height}
      style={{ position: "absolute", left: p.cl, top: p.ct, width, height }}
    />
  );
}

export default function App() {
  return (
    <div style={{ position: "absolute", left: 0, top: 0, width: 1050, height: 986, background: "#fff", overflow: "hidden" }}>
      {PANELS.map((p) => (
        <PanelChart key={p.key} p={p} />
      ))}
    </div>
  );
}
